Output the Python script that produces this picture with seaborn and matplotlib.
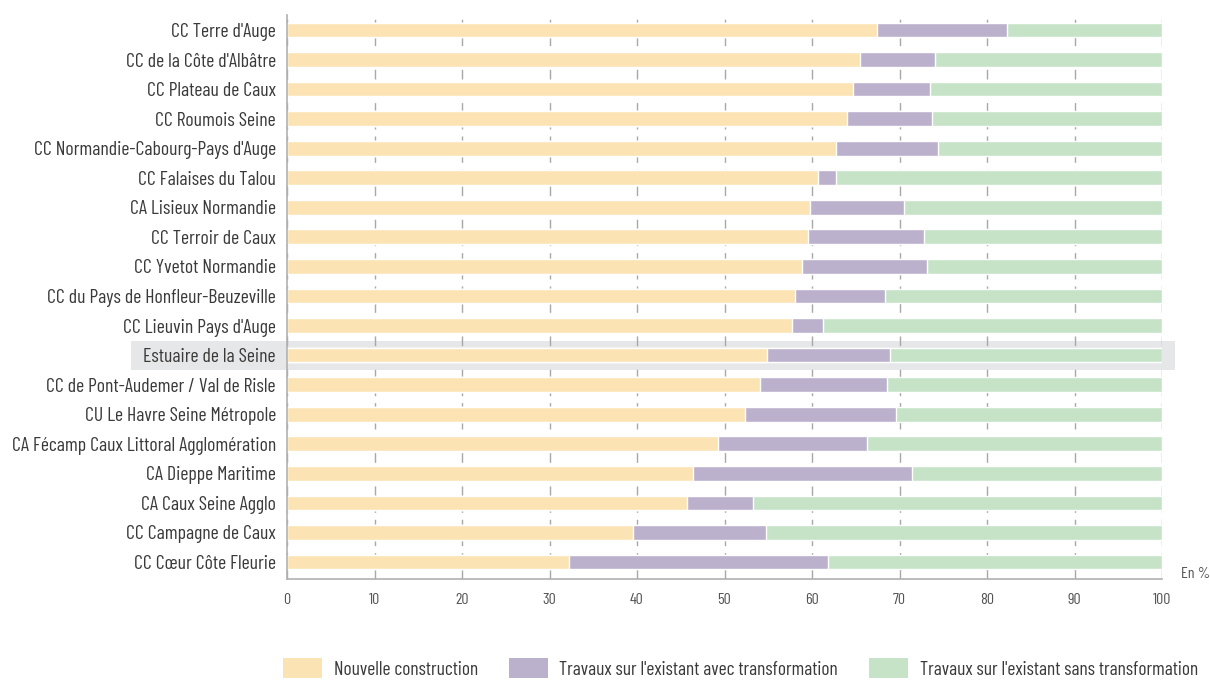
import os
import pandas as pd
import seaborn as sns
import matplotlib.pyplot as plt
from matplotlib import font_manager as fm
from matplotlib.patches import Rectangle

# Data (shares in %)
territoires = [
    "CC Terre d'Auge", "CC de la Côte d'Albâtre", "CC Plateau de Caux", "CC Roumois Seine",
    "CC Normandie-Cabourg-Pays d'Auge", "CC Falaises du Talou", "CA Lisieux Normandie",
    "CC Terroir de Caux", "CC Yvetot Normandie", "CC du Pays de Honfleur-Beuzeville",
    "CC Lieuvin Pays d'Auge", "Estuaire de la Seine", "CC de Pont-Audemer / Val de Risle",
    "CU Le Havre Seine Métropole", "CA Fécamp Caux Littoral Agglomération", "CA Dieppe Maritime",
    "CA Caux Seine Agglo", "CC Campagne de Caux", "CC Cœur Côte Fleurie",
]
nouvelle = [67.4, 65.5, 64.7, 64.0, 62.7, 60.7, 59.8, 59.5, 58.8, 58.1,
            57.7, 54.9, 54.1, 52.3, 49.3, 46.4, 45.7, 39.5, 32.2]
avec_transfo = [14.9, 8.6, 8.8, 9.7, 11.7, 2.0, 10.7, 13.3, 14.3, 10.2,
                3.5, 14.0, 14.5, 17.3, 17.0, 25.0, 7.5, 15.2, 29.6]
sans_transfo = [100 - a - b for a, b in zip(nouvelle, avec_transfo)]

series = ["Nouvelle construction", "Travaux sur l'existant avec transformation",
          "Travaux sur l'existant sans transformation"]
colors = ["#fce3b4", "#bbb1cd", "#c6e3c8"]

df = pd.DataFrame({"territoire": territoires, "nouvelle": nouvelle,
                   "avec": avec_transfo, "sans": sans_transfo})
df["cum1"] = df["nouvelle"]
df["cum2"] = df["nouvelle"] + df["avec"]
df["cum3"] = df["cum2"] + df["sans"]

# condensed font, close to the original's
font_name = "DejaVu Sans"
path = "/usr/share/fonts/truetype/google-fonts/BarlowCondensed-Regular.ttf"
if os.path.exists(path):
    fm.fontManager.addfont(path)
    font_name = fm.FontProperties(fname=path).get_name()

sns.set_style("white")
plt.rcParams["font.family"] = [font_name, "DejaVu Sans"]

fig = plt.figure(figsize=(12.1, 6.84), dpi=100)
ax = fig.add_axes([287 / 1210, 1 - 579 / 684, 875 / 1210, 564 / 684])

# stacked bars: draw cumulative totals back to front
for col, c in zip(["cum3", "cum2", "cum1"], colors[::-1]):
    sns.barplot(data=df, x=col, y="territoire", order=territoires, orient="h",
                color=c, width=0.5, errorbar=None, saturation=1, ax=ax, zorder=2)

ax.set_xlim(0, 100)
ax.set_ylim(18.575, -0.507)
ax.set_xticks(range(0, 101, 10))
ax.set_xlabel("")
ax.set_ylabel("")

ax.set_axisbelow(True)
ax.grid(axis="x", color="#a8a8a8", linestyle=(0, (7, 5)), linewidth=1)
ax.grid(axis="y", visible=False)
for s in ["top", "right"]:
    ax.spines[s].set_visible(False)
for s in ["left", "bottom"]:
    ax.spines[s].set_color("#b0b0b0")
    ax.spines[s].set_linewidth(1.2)

ax.tick_params(axis="y", length=0, labelsize=14.2, labelcolor="#3a3a3a", pad=8)
ax.tick_params(axis="x", length=4, color="#b0b0b0", labelsize=11.5, labelcolor="#555555", pad=6)

# highlight row for the reference territory
idx = territoires.index("Estuaire de la Seine")
ax.add_patch(Rectangle((-17.8, idx - 0.49), 119.3, 0.98, facecolor="#e6e7e8",
                       edgecolor="none", clip_on=False, zorder=0.1))

ax.text(1.022, 0.009, "En %", transform=ax.transAxes, fontsize=11.5,
        color="#555555", va="center", ha="left")

handles = [Rectangle((0, 0), 1, 1, facecolor=c, edgecolor="none") for c in colors]
fig.legend(handles, series, loc="lower center", bbox_to_anchor=(0.612, -0.018),
           ncol=3, frameon=False, fontsize=14, handlelength=2.0, handleheight=1.2,
           columnspacing=1.6, handletextpad=0.6, labelcolor="#3a3a3a")

fig.savefig("out.png", dpi=100)
